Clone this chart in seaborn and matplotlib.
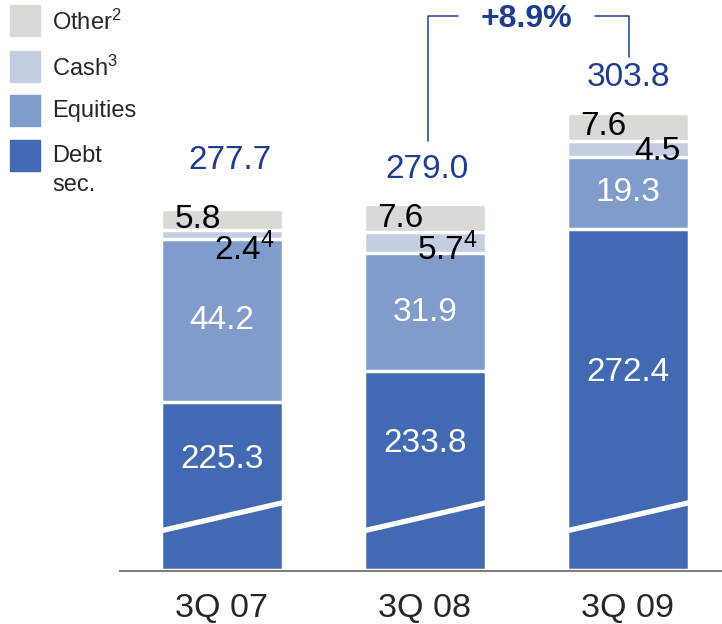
import matplotlib
matplotlib.use('Agg')
import matplotlib.pyplot as plt
import seaborn as sns
import numpy as np
from matplotlib.patches import Rectangle

# data (EUR bn)
quarters = ['3Q 07', '3Q 08', '3Q 09']
debt = [225.3, 233.8, 272.4]
equities = [44.2, 31.9, 19.3]
cash = [2.4, 5.7, 4.5]
other = [5.8, 7.6, 7.6]
totals = [277.7, 279.0, 303.8]
cash_labels = ['2.4$^{4}$', '5.7$^{4}$', '4.5']
growth_label = '+8.9%'
legend_labels = ['Other$^{2}$', 'Cash$^{3}$', 'Equities', 'Debt\nsec.']

# style
c_other = '#D9DAD5'
c_cash = '#C4CDE2'
c_eq = '#7F9CCB'
c_debt = '#426AB3'
navy = '#1F3D8E'
axis_break = 180  # debt bars are cut (broken axis)
fs = 24

sns.set_style('white')
plt.rcParams['font.family'] = ['Liberation Sans', 'DejaVu Sans']
plt.rcParams['mathtext.fontset'] = 'custom'
plt.rcParams['mathtext.rm'] = 'Liberation Sans'
plt.rcParams['mathtext.default'] = 'regular'

debt_shown = np.array(debt) - axis_break
lvl_debt = debt_shown
lvl_eq = lvl_debt + np.array(equities)
lvl_cash = lvl_eq + np.array(cash)
lvl_other = lvl_cash + np.array(other)

fig = plt.figure(figsize=(7.22, 6.24), dpi=100)
ax = fig.add_axes([120 / 722, 53 / 624, 602 / 722, 571 / 624])

# stacked bars drawn from the top down
for lvl, col in [(lvl_other, c_other), (lvl_cash, c_cash), (lvl_eq, c_eq), (lvl_debt, c_debt)]:
    sns.barplot(x=quarters, y=lvl, color=col, saturation=1, width=0.6,
                edgecolor='white', linewidth=2.5, ax=ax)

bw = 0.3
total_dx = [0.04, 0.01, 0.0]
total_pad = [13.2, 9.5, 9.5]
for i in range(len(quarters)):
    # break marker
    ax.plot([i - bw, i + bw], [10.5, 18.1], color='white', lw=3.8, solid_capstyle='butt', zorder=4)
    # debt value (above the break)
    ax.text(i, (lvl_debt[i] + 14.3) / 2, f'{debt[i]:.1f}', color='white', fontsize=fs,
            ha='center', va='center', zorder=5)
    ax.text(i, (lvl_debt[i] + lvl_eq[i]) / 2, f'{equities[i]:.1f}', color='white', fontsize=fs,
            ha='center', va='center', zorder=5)
    ax.text(i - bw + 0.065, (lvl_cash[i] + lvl_other[i]) / 2, f'{other[i]:.1f}', color='black',
            fontsize=fs, ha='left', va='center', zorder=5)
    ax.text(i + total_dx[i], lvl_other[i] + total_pad[i], f'{totals[i]:.1f}', color=navy,
            fontsize=fs, ha='center', va='center')

cash_drop = [4.0, 1.8, 0.8]
for i in range(len(quarters)):
    ax.text(i + bw - 0.04, (lvl_eq[i] + lvl_cash[i]) / 2 - cash_drop[i], cash_labels[i],
            color='black', fontsize=fs, ha='right', va='center', zorder=5)

# growth bracket
ax.plot([1.015, 1.015, 1.163], [lvl_other[1] + 17, 150, 150], color=navy, lw=1.1)
ax.plot([1.837, 2.005, 2.005], [150, 150, 138.9], color=navy, lw=1.1)
ax.text(1.5, 149.3, growth_label, color=navy, fontsize=23, fontweight='bold',
        ha='center', va='center')

ax.set_xlim(-0.502, 2.463)
ax.set_ylim(-0.4, 571 / 3.7)
ax.set_yticks([])
ax.tick_params(axis='x', length=0, labelsize=24.5, pad=16)
for s in ['top', 'left', 'right']:
    ax.spines[s].set_visible(False)
ax.spines['bottom'].set_color('#808080')
ax.spines['bottom'].set_linewidth(1.5)
ax.spines['bottom'].set_zorder(6)

# legend
sq_tops = [5, 51, 95, 140]
for top, col, lab in zip(sq_tops, [c_other, c_cash, c_eq, c_debt], legend_labels):
    fig.patches.append(Rectangle((10 / 722, 1 - (top + 31) / 624), 30 / 722, 31 / 624,
                                 transform=fig.transFigure, color=col, figure=fig))
    fig.text(52 / 722, 1 - (top + 5) / 624, lab, fontsize=17, ha='left', va='top',
             linespacing=1.42)

fig.savefig('out.png', dpi=100)
